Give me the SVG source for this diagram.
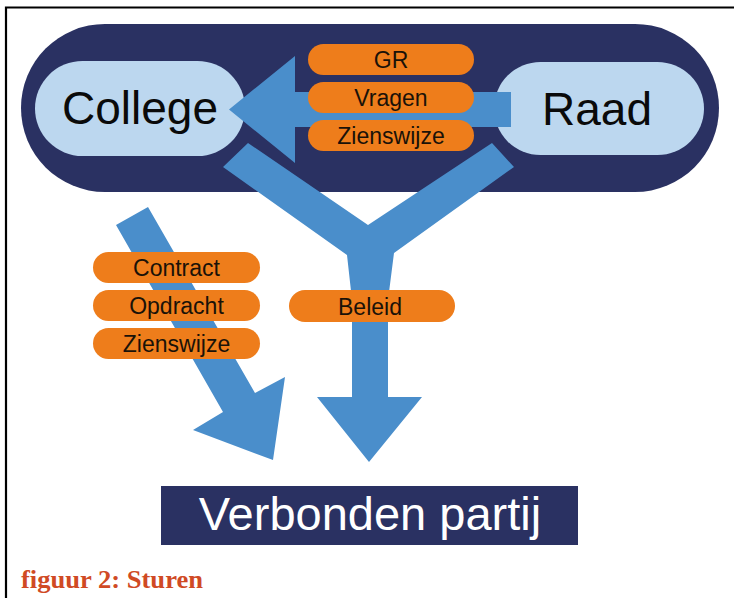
<svg xmlns="http://www.w3.org/2000/svg" width="734" height="598" viewBox="0 0 734 598">
<style>
.blue{fill:#4a8ecb}
.tag{fill:#ee7d1b}
.tagt{font-family:"Liberation Sans",Arial,sans-serif;font-size:23px;fill:#1a1208;text-anchor:middle}
.big{font-family:"Liberation Sans",Arial,sans-serif;font-size:46px;fill:#0a0a0a;text-anchor:middle}
.node{fill:#bcd7ef}
</style>
<rect x="0" y="0" width="734" height="598" fill="#ffffff"/>
<path d="M6 598V7.5H734" fill="none" stroke="#000" stroke-width="2.2"/>
<g id="frame-pill"><rect x="21" y="24" width="698" height="168" rx="84" fill="#2a3162"/></g>
<g id="college"><rect class="node" x="35" y="61" width="210" height="95" rx="47.5"/><text class="big" x="140" y="124">College</text></g>
<g id="raad"><rect class="node" x="494" y="62" width="210" height="93" rx="46.5"/><text class="big" x="597" y="125">Raad</text></g>
<g id="connectors">
<polygon class="blue" points="511,92 295,92 295,56 229,109.5 295,163 295,127 511,127"/>
<polygon class="blue" points="248,143 368,225 492,143 514,167 394,253 388,300 388,397 422,397 369,462 317,397 352,397 352,300 347,255 223,167"/>
<polygon class="blue" points="148,207 255,393 285,377 273,460 193,430 223,412 116,225"/>
</g>
<g id="tag-gr"><rect class="tag" x="308" y="44" width="166" height="31" rx="15.5"/><text class="tagt" x="391" y="67.5">GR</text></g>
<g id="tag-vragen"><rect class="tag" x="308" y="82" width="166" height="31" rx="15.5"/><text class="tagt" x="391" y="105.5">Vragen</text></g>
<g id="tag-zienswijze1"><rect class="tag" x="308" y="120" width="166" height="31" rx="15.5"/><text class="tagt" x="391" y="143.5">Zienswijze</text></g>
<g id="tag-contract"><rect class="tag" x="93" y="252" width="167" height="31" rx="15.5"/><text class="tagt" x="176.5" y="276">Contract</text></g>
<g id="tag-opdracht"><rect class="tag" x="93" y="290" width="167" height="31" rx="15.5"/><text class="tagt" x="176.5" y="313.5">Opdracht</text></g>
<g id="tag-zienswijze2"><rect class="tag" x="93" y="328" width="167" height="31" rx="15.5"/><text class="tagt" x="176.5" y="351.5">Zienswijze</text></g>
<g id="tag-beleid"><rect class="tag" x="289" y="290" width="166" height="32" rx="16"/><text class="tagt" x="370" y="314.5">Beleid</text></g>
<g id="verbonden"><rect x="161" y="486" width="417" height="59" fill="#2a3162"/><text x="370" y="530" font-family="Liberation Sans,Arial,sans-serif" font-size="47" fill="#ffffff" text-anchor="middle">Verbonden partij</text></g>
<text x="21" y="588" font-family="Liberation Serif,Times New Roman,serif" font-size="25" font-weight="bold" fill="#d04a24" textLength="182" lengthAdjust="spacingAndGlyphs">figuur 2: Sturen</text>
</svg>
